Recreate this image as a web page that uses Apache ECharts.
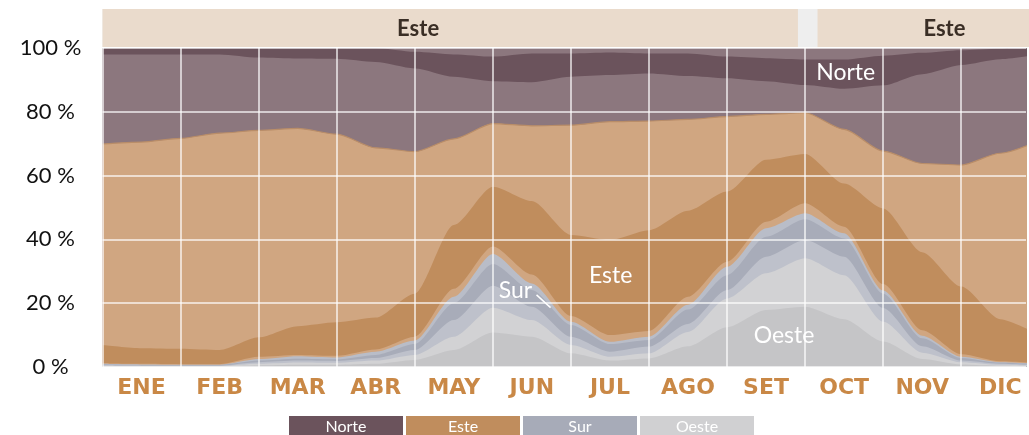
<!DOCTYPE html>
<html><head><meta charset="utf-8">
<script src="https://cdn.jsdelivr.net/npm/echarts@6/dist/echarts.min.js"></script>
<style>html,body{margin:0;padding:0;background:#fff}#c{width:1029px;height:435px}</style>
</head><body><div id="c"></div>
<script>
// ---- data (month position, 0 = 1 Jan, 12 = 31 Dec) ----
const months = ['ENE','FEB','MAR','ABR','MAY','JUN','JUL','AGO','SET','OCT','NOV','DIC'];
const xMonths = [0,0.5,1,1.5,2,2.5,3,3.5,4,4.5,5,5.5,6,6.5,7,7.5,8,8.5,9,9.5,10,10.5,11,11.5,12];
// cumulative upper edge (%) of each band, top to bottom
const norteDarkTop     = [100,100,100,100,100,100,100,100,98.8,98,97.3,98.3,98.3,98.6,98.3,98.3,97.3,96.8,96.4,96.4,97.6,98.5,99.3,99.8,100];
const norteLightTop    = [98,98,98,98,97,96.7,96.6,95.6,93.6,91,89.6,89.3,91,91.5,92,91.2,90.5,89.6,88.4,87.2,88.3,91.8,94.7,96.5,98];
const esteLightHighTop = [69.9,70.5,71.7,73.3,74.2,74.8,73,68.7,67.5,71.5,76.3,75.6,75.8,76.9,77.1,77.6,78.5,79.2,79.7,74.5,67.7,63.8,63.3,67,71];
const esteDarkTop      = [6.9,5.9,5.7,5.3,9.3,12.8,14,15.5,23,44.5,56.5,52,41.4,39.8,42.9,49,55,65,66.8,57.5,49.7,36,25.2,15,10];
const esteLightLowTop  = [1.2,1.0,0.9,0.9,3.2,3.8,3.5,5.5,9.5,24.5,37.8,29,16,10,11.3,22,33,45.5,51.3,44,26,11.5,4,1.8,1.2];
const surLightHighTop  = [1.0,0.8,0.7,0.7,2.5,3.4,3.0,4.8,8.3,22,35.4,26.2,14.2,7.9,9.5,19.5,31.4,43.5,48.2,41.9,24,9.8,3.2,1.5,1.0];
const surDarkTop       = [0.8,0.6,0.6,0.6,2.0,2.6,2.4,3.8,7.2,20,32.3,24.1,13.2,7.2,8.5,18,28.8,40.8,46.3,40.3,23,9,2.8,1.3,0.8];
const surLightLowTop   = [0.6,0.5,0.5,0.5,1.5,2.0,1.9,2.8,5.3,14.7,25.5,18.9,9.5,4.8,6.4,13.5,24.1,34.6,39.8,34.6,18.5,6.5,2,1,0.6];
const oesteLightTop    = [0.4,0.3,0.3,0.3,1.0,1.4,1.3,2.0,3.8,9.5,18.6,14.7,6.9,3.2,4.3,11,21.5,29.4,34.1,28.8,14.2,4.5,1.5,0.7,0.4];
const oesteDarkTop     = [0.2,0.2,0.2,0.2,0.5,0.7,0.7,1.0,2.2,5.3,10.8,9.5,4.3,2,2.7,6.5,12.5,17.9,18.9,15,8,2.5,0.8,0.4,0.2];
const yTicks = [0,20,40,60,80,100];
const visibleMonths = 11.83; // the picture is cut a little before 31 Dec
// predominant-direction band on top
const bandNames = ['Este','Este'];
const bandStart = [0, 9.13];
const bandEnd   = [8.88, 12];
const bandLabelAt = [4.03, 10.75];
// in-chart annotations [month, percent]
const annoNames = ['Norte','Sur','Este','Oeste'];
const annoX = [9.52, 5.29, 6.51, 8.73];
const annoY = [92.2, 24.1, 28.8, 9.7];
const legendNames = ['Norte','Este','Sur','Oeste'];

// ---- styles ----
const C = {
  nLight:'#8c777e', nDark:'#6b535c',
  eLight:'#d0a681', eDark:'#c08d5d',
  sLight:'#b9bdc8', sDark:'#a8acb9', sLight2:'#bec1cb',
  oLight:'#d2d2d4', oDark:'#c5c5c7'
};
const legendColors = ['#6b535c','#c08d5d','#a7abb8','#d0d0d2'];
const FONT = 'Lato, "Open Sans", sans-serif';
const MONTH_FONT = '"DejaVu Sans", Lato, sans-serif';

function pts(arr){ return xMonths.map((x,i)=>[x, arr[i]]); }
function band(name, arr, color, extra){
  return Object.assign({
    name, type:'line', xAxisIndex:0, yAxisIndex:0, data:pts(arr),
    symbol:'none', smooth:0.25, smoothMonotone:'x', silent:true,
    lineStyle:{width:0}, areaStyle:{color, opacity:1}, z:2
  }, extra||{});
}
function monthLabel(v){
  const k = v - 0.5;
  if (Math.abs(k - Math.round(k)) < 1e-6 && Math.round(k) >= 0 && Math.round(k) < months.length) return months[Math.round(k)];
  return '';
}

const chart = echarts.init(document.getElementById('c'), null, {renderer:'canvas'});
const option = {
  animation:false,
  grid:[
    {left:102.5, top:48, right:0, height:319, show:true, backgroundColor:C.nLight, borderWidth:0},
    {left:102.5, top:9, right:0, height:38, show:true, backgroundColor:'#eeeeee', borderWidth:0}
  ],
  xAxis:[
    {type:'value', gridIndex:0, min:0, max:visibleMonths, interval:1, z:10,
     axisLine:{show:false}, axisTick:{show:false}, axisLabel:{show:false},
     splitLine:{show:true, showMaxLine:false, lineStyle:{color:'rgba(255,255,255,0.85)', width:1.5}}},
    {type:'value', gridIndex:0, min:0, max:visibleMonths, interval:0.5, position:'bottom',
     axisLine:{show:false}, axisTick:{show:false}, splitLine:{show:false},
     axisLabel:{margin:10, formatter:monthLabel, showMinLabel:true, showMaxLabel:true,
       fontFamily:MONTH_FONT, fontWeight:'bold', fontSize:22, color:'#c98846'}},
    {type:'value', gridIndex:1, min:0, max:visibleMonths, show:false}
  ],
  yAxis:[
    {type:'value', gridIndex:0, min:0, max:100, interval:20, z:10,
     axisLine:{show:false}, axisTick:{show:false},
     axisLabel:{formatter:v=>v+' %', align:'center', margin:52, fontFamily:FONT, fontSize:22, color:'#111'},
     splitLine:{show:true, lineStyle:{color:'rgba(255,255,255,0.85)', width:1.5}}},
    {type:'value', gridIndex:1, min:0, max:1, show:false}
  ],
  series:[
    band('Norte', norteDarkTop, C.nDark),
    band('Norte', norteLightTop, C.nLight),
    band('Este', esteLightHighTop, C.eLight, {lineStyle:{width:1.2, color:'#b98d68'}}),
    band('Este', esteDarkTop, C.eDark),
    band('Este', esteLightLowTop, C.eLight),
    band('Sur', surLightHighTop, C.sLight),
    band('Sur', surDarkTop, C.sDark),
    band('Sur', surLightLowTop, C.sLight2),
    band('Oeste', oesteLightTop, C.oLight),
    band('Oeste', oesteDarkTop, C.oDark),
    {type:'line', xAxisIndex:0, yAxisIndex:0, data:[], z:20, silent:true,
     markPoint:{symbol:'circle', symbolSize:0, silent:true,
       label:{show:true, position:'inside', formatter:'{b}', color:'#fff', fontFamily:FONT, fontSize:23},
       data:annoNames.map((n,i)=>({name:n, coord:[annoX[i], annoY[i]]}))},
     markLine:{symbol:'none', silent:true, lineStyle:{color:'#fff', width:1.5, type:'solid'}, label:{show:false},
       data:[[{coord:[5.56,22.6]},{coord:[5.74,18.6]}]]}},
    {type:'custom', xAxisIndex:2, yAxisIndex:1, silent:true,
     data:bandNames.map((n,i)=>[bandStart[i], bandEnd[i], bandLabelAt[i]]),
     renderItem:(params, api)=>{
       const s = api.coord([api.value(0), 1]);
       const e = api.coord([api.value(1), 0]);
       const l = api.coord([api.value(2), 0.5]);
       return {type:'group', children:[
         {type:'rect', shape:{x:s[0], y:s[1], width:e[0]-s[0], height:e[1]-s[1]}, style:{fill:'#eadbcc'}},
         {type:'text', style:{text:bandNames[params.dataIndex], x:l[0], y:l[1]+1, align:'center', verticalAlign:'middle',
           fontFamily:FONT, fontSize:22, fontWeight:'bold', fill:'#3a2e25'}}
       ]};
     }}
  ],
  graphic: legendNames.map((n,i)=>({
    type:'group', left:289 + i*117, top:416,
    children:[
      {type:'rect', shape:{x:0, y:0, width:114, height:22}, style:{fill:legendColors[i]}},
      {type:'text', style:{text:n, x:57, y:11, align:'center', verticalAlign:'middle', fontFamily:FONT, fontSize:16, fill:'#fff'}}
    ]
  }))
};
chart.setOption(option);
</script></body></html>
